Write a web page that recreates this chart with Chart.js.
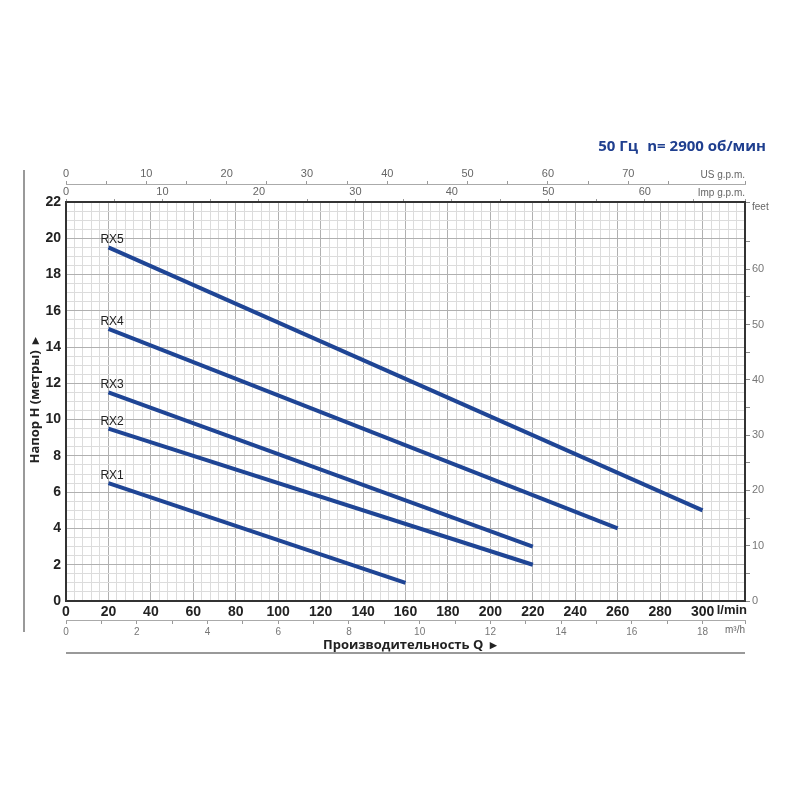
<!DOCTYPE html>
<html>
<head>
<meta charset="utf-8">
<script src="https://cdn.jsdelivr.net/npm/chart.js@4"></script>
<style>
  html, body { margin: 0; padding: 0; background: #fff; }
  #wrap { width: 800px; height: 800px; position: relative; }
</style>
</head>
<body>
<div id="wrap"><canvas id="curves"></canvas></div>
<script>
// ── RX pump curves: Q (l/min) vs H (m) ─────────────────────
const pumps     = ['RX1', 'RX2', 'RX3', 'RX4', 'RX5'];
const flowStart = [20, 20, 20, 20, 20];        // l/min
const flowEnd   = [160, 220, 220, 260, 300];   // l/min
const headStart = [6.5, 9.5, 11.5, 15.0, 19.5]; // m
const headEnd   = [1.0, 2.0, 3.0, 4.0, 5.0];    // m

// axis ranges / label steps
const flowMax = 320;        // l/min
const headMax = 22;         // m
const flowLabelStep = 20;
const headLabelStep = 2;

// unit conversions for secondary axes
const M_TO_FT   = 3.28084;
const LMIN_US   = 0.264172;
const LMIN_IMP  = 0.219969;
const LMIN_M3H  = 0.06;

const BLUE = '#1f4595';
const TICK_FONT = '"Liberation Sans", Arial, sans-serif';
const TITLE_FONT = '"Open Sans", "Noto Sans", sans-serif';

const near = (v, step) => Math.abs(v / step - Math.round(v / step)) < 1e-6;

const datasets = pumps.map((name, i) => ({
  label: name,
  data: [
    { x: flowStart[i], y: headStart[i] },
    { x: flowEnd[i],   y: headEnd[i] }
  ],
  borderColor: BLUE,
  borderWidth: 4,
  borderCapStyle: 'butt',
  pointRadius: 0,
  tension: 0,
  xAxisID: 'x',
  yAxisID: 'y'
}));

// ── extra texts: title, unit labels, curve names ───────────
const extrasPlugin = {
  id: 'extras',
  afterDraw(chart) {
    const { ctx, chartArea: a } = chart;
    ctx.save();

    // header
    ctx.fillStyle = '#1f3f8f';
    ctx.font = `700 15px ${TITLE_FONT}`;
    ctx.textBaseline = 'middle';
    ctx.textAlign = 'right';
    ctx.fillText('50 Гц', 638, 147);
    ctx.fillText('n= 2900 об/мин', 766, 147);

    // unit labels
    ctx.fillStyle = '#666';
    ctx.font = `10px ${TICK_FONT}`;
    ctx.textAlign = 'right';
    ctx.fillText('US g.p.m.', a.right, 175);
    ctx.fillText('Imp g.p.m.', a.right, 193);
    ctx.fillText('m³/h', a.right, 630);
    ctx.textAlign = 'left';
    ctx.fillText('feet', a.right + 7, 207);

    ctx.fillStyle = '#222';
    ctx.font = `700 13px ${TICK_FONT}`;
    ctx.textAlign = 'right';
    ctx.fillText('l/min', a.right + 2, 610);

    // curve names above first point
    ctx.font = `12px ${TICK_FONT}`;
    ctx.textAlign = 'left';
    ctx.textBaseline = 'alphabetic';
    chart.data.datasets.forEach((ds, i) => {
      const p = chart.getDatasetMeta(i).data[0];
      if (p) ctx.fillText(ds.label, p.x - 8, p.y - 4);
    });

    // axis titles
    ctx.fillStyle = '#222';
    ctx.font = `700 13px ${TITLE_FONT}`;
    ctx.textAlign = 'center';
    ctx.textBaseline = 'middle';
    ctx.fillText('Производительность Q  ▸', 410, 645);

    ctx.translate(35, 400);
    ctx.rotate(-Math.PI / 2);
    ctx.fillText('Напор H (метры)  ▸', 0, 0);
    ctx.setTransform(1, 0, 0, 1, 0, 0);

    // frame lines
    ctx.strokeStyle = '#999';
    ctx.lineWidth = 2;
    ctx.beginPath();
    ctx.moveTo(24, 170); ctx.lineTo(24, 632);
    ctx.moveTo(a.left, 653); ctx.lineTo(a.right, 653);
    ctx.stroke();

    ctx.restore();
  }
};

const gridColor = (step) => (c) => near(c.tick.value, step) ? '#b0b0b0' : '#dcdcdc';

new Chart(document.getElementById('curves'), {
  type: 'line',
  data: { datasets },
  options: {
    responsive: true,
    maintainAspectRatio: false,
    animation: false,
    layout: { padding: { top: 160, bottom: 160, left: 0, right: 0 } },
    plugins: {
      legend: { display: false },
      tooltip: { enabled: false }
    },
    scales: {
      x: {
        type: 'linear', position: 'bottom', weight: 0,
        min: 0, max: flowMax,
        grid: { color: gridColor(flowLabelStep), drawTicks: false },
        border: { display: true, color: '#333', width: 2 },
        ticks: {
          stepSize: 4, autoSkip: false, maxRotation: 0, minRotation: 0, padding: 3,
          color: '#222', font: { family: TICK_FONT, size: 14, weight: 'bold' },
          callback: v => (near(v, flowLabelStep) && v <= 300) ? v : ''
        },
        afterFit: s => { s.height = 19; }
      },
      xM3: {
        type: 'linear', position: 'bottom', weight: 1,
        min: 0, max: flowMax * LMIN_M3H,
        grid: { drawOnChartArea: false, color: '#999', tickLength: 4 },
        border: { display: true, color: '#aaa', width: 1 },
        ticks: {
          stepSize: 1, autoSkip: false, maxRotation: 0, minRotation: 0, padding: 2,
          color: '#777', font: { family: TICK_FONT, size: 10 },
          callback: v => (near(v, 2) && v <= 18) ? v : ''
        },
        afterFit: s => { s.height = 20; }
      },
      xImp: {
        type: 'linear', position: 'top', weight: 0,
        min: 0, max: flowMax * LMIN_IMP,
        grid: { drawOnChartArea: false, color: '#999', tickLength: 3 },
        border: { display: true, color: '#333', width: 2 },
        ticks: {
          stepSize: 5, autoSkip: false, maxRotation: 0, minRotation: 0, padding: 0,
          color: '#666', font: { family: TICK_FONT, size: 11 },
          callback: v => (near(v, 10) && v <= 60) ? v : ''
        },
        afterFit: s => { s.height = 18; }
      },
      xUS: {
        type: 'linear', position: 'top', weight: 1,
        min: 0, max: flowMax * LMIN_US,
        grid: { drawOnChartArea: false, color: '#999', tickLength: 3 },
        border: { display: true, color: '#aaa', width: 1 },
        ticks: {
          stepSize: 5, autoSkip: false, maxRotation: 0, minRotation: 0, padding: 0,
          color: '#666', font: { family: TICK_FONT, size: 11 },
          callback: v => (near(v, 10) && v <= 70) ? v : ''
        },
        afterFit: s => { s.height = 24; }
      },
      y: {
        type: 'linear', position: 'left',
        min: 0, max: headMax,
        grid: { color: gridColor(headLabelStep), drawTicks: false },
        border: { display: true, color: '#333', width: 2 },
        ticks: {
          stepSize: 0.5, autoSkip: false, padding: 5,
          color: '#222', font: { family: TICK_FONT, size: 14, weight: 'bold' },
          callback: v => near(v, headLabelStep) ? v : ''
        },
        afterFit: s => { s.width = 66; }
      },
      yFt: {
        type: 'linear', position: 'right',
        min: 0, max: headMax * M_TO_FT,
        grid: { drawOnChartArea: false, color: '#888', tickLength: 5 },
        border: { display: true, color: '#333', width: 2 },
        ticks: {
          stepSize: 5, autoSkip: false, padding: 2,
          color: '#777', font: { family: TICK_FONT, size: 11 },
          callback: v => (near(v, 10) && v < 70) ? v : ''
        },
        afterFit: s => { s.width = 55; }
      }
    }
  },
  plugins: [extrasPlugin]
});
</script>
</body>
</html>
